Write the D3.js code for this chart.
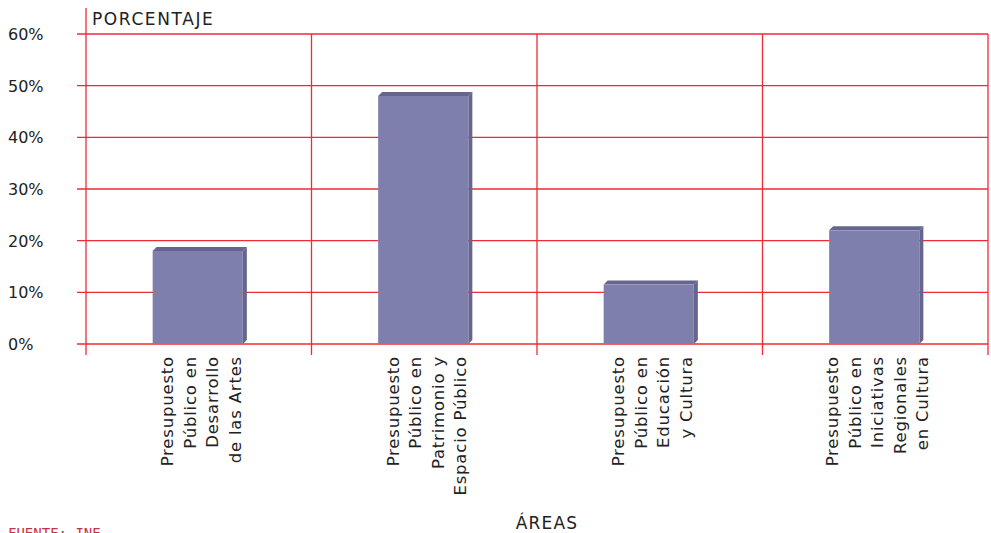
<!DOCTYPE html>
<html lang="es">
<head>
<meta charset="utf-8">
<title>Presupuesto público por áreas</title>
<script src="https://d3js.org/d3.v7.min.js"></script>
<style>
  body { margin: 0; background: #fff; }
  svg { font-family: "DejaVu Sans", sans-serif; display: block; }
</style>
</head>
<body>
<svg width="991" height="533"></svg>
<script>
// data
var categories = ["Desarrollo", "Patrimonio", "Educacion", "Regionales"];
var labelLines = [
  ["Presupuesto", "Público en", "Desarrollo", "de las Artes"],
  ["Presupuesto", "Público en", "Patrimonio y", "Espacio Público"],
  ["Presupuesto", "Público en", "Educación", "y Cultura"],
  ["Presupuesto", "Público en", "Iniciativas", "Regionales", "en Cultura"]
];
var values = [18, 48, 11.5, 22];
var yTicks = [0, 10, 20, 30, 40, 50, 60];

var svg = d3.select("svg");
var red = "#ee2a33";
var front = "#7f7fad", side = "#65658e";

var x = d3.scaleBand().domain(categories).range([86, 988]).padding(0);
var y = d3.scaleLinear().domain([0, 60]).range([344, 34]);
var depth = 4;

// horizontal grid
svg.append("g").selectAll("line")
    .data(yTicks)
  .enter().append("line")
    .attr("x1", 77).attr("x2", 988)
    .attr("y1", function(d) { return y(d); })
    .attr("y2", function(d) { return y(d); })
    .attr("stroke", red).attr("stroke-width", 1.3);

// vertical grid (category boundaries)
var bounds = categories.map(function(c) { return x(c); }).concat([x.range()[1]]);
svg.append("g").selectAll("line")
    .data(bounds)
  .enter().append("line")
    .attr("x1", function(d) { return d; }).attr("x2", function(d) { return d; })
    .attr("y1", function(d, i) { return i === 0 ? 8 : y(60); })
    .attr("y2", 355)
    .attr("stroke", red).attr("stroke-width", 1.3);

// y tick labels
svg.append("g").selectAll("text")
    .data(yTicks)
  .enter().append("text")
    .attr("x", 8)
    .attr("y", function(d) { return y(d) + 6; })
    .attr("font-size", 16)
    .attr("fill", "#222")
    .text(function(d) { return d + "%"; });

// bars (pseudo 3D)
var bw = x.bandwidth() * 0.4;
var bars = svg.append("g").selectAll("g")
    .data(values)
  .enter().append("g")
    .attr("transform", function(d, i) {
      return "translate(" + (x(categories[i]) + (x.bandwidth() - bw) / 2 - 1) + ",0)";
    });

bars.append("path")
    .attr("d", function(d) {
      var t = y(d);
      return "M0," + t + "L" + depth + "," + (t - depth) + "L" + (bw + depth) + "," + (t - depth) +
        "L" + (bw + depth) + "," + (y(0) - depth) + "L" + bw + "," + y(0) + "L" + bw + "," + t + "Z";
    })
    .attr("fill", side);

bars.append("rect")
    .attr("x", 0)
    .attr("y", function(d) { return y(d); })
    .attr("width", bw)
    .attr("height", function(d) { return y(0) - y(d); })
    .attr("fill", front);

bars.append("line")
    .attr("x1", bw).attr("x2", bw + depth)
    .attr("y1", function(d) { return y(d); })
    .attr("y2", function(d) { return y(d) - depth; })
    .attr("stroke", "#8e8eb8").attr("stroke-width", 0.8);

// category labels, rotated
var lineGap = 22.5;
var labels = svg.append("g").selectAll("g")
    .data(labelLines)
  .enter().append("g")
    .attr("transform", function(d, i) {
      return "translate(" + (x(categories[i]) + x.bandwidth() / 2 + 2) + ",356)";
    });

labels.selectAll("text")
    .data(function(d) { return d.map(function(s, j) { return { s: s, j: j, n: d.length }; }); })
  .enter().append("text")
    .attr("transform", function(d) {
      var cx = (d.j - (d.n - 1) / 2) * lineGap + 6;
      return "translate(" + cx + ",0) rotate(-90)";
    })
    .attr("text-anchor", "end")
    .attr("font-size", 16.5)
    .attr("letter-spacing", 0.8)
    .attr("fill", "#222")
    .text(function(d) { return d.s; });

// axis titles
svg.append("text")
    .attr("x", 92).attr("y", 25)
    .attr("font-size", 17).attr("letter-spacing", 1.6)
    .attr("fill", "#222")
    .text("PORCENTAJE");

svg.append("text")
    .attr("x", 547).attr("y", 529)
    .attr("text-anchor", "middle")
    .attr("font-size", 17).attr("letter-spacing", 1.2)
    .attr("fill", "#222")
    .text("ÁREAS");

svg.append("text")
    .attr("x", 8).attr("y", 538)
    .attr("font-family", "DejaVu Sans Mono, monospace")
    .attr("font-size", 14).attr("fill", "#c8314a")
    .text("FUENTE: INE");
</script>
</body>
</html>
